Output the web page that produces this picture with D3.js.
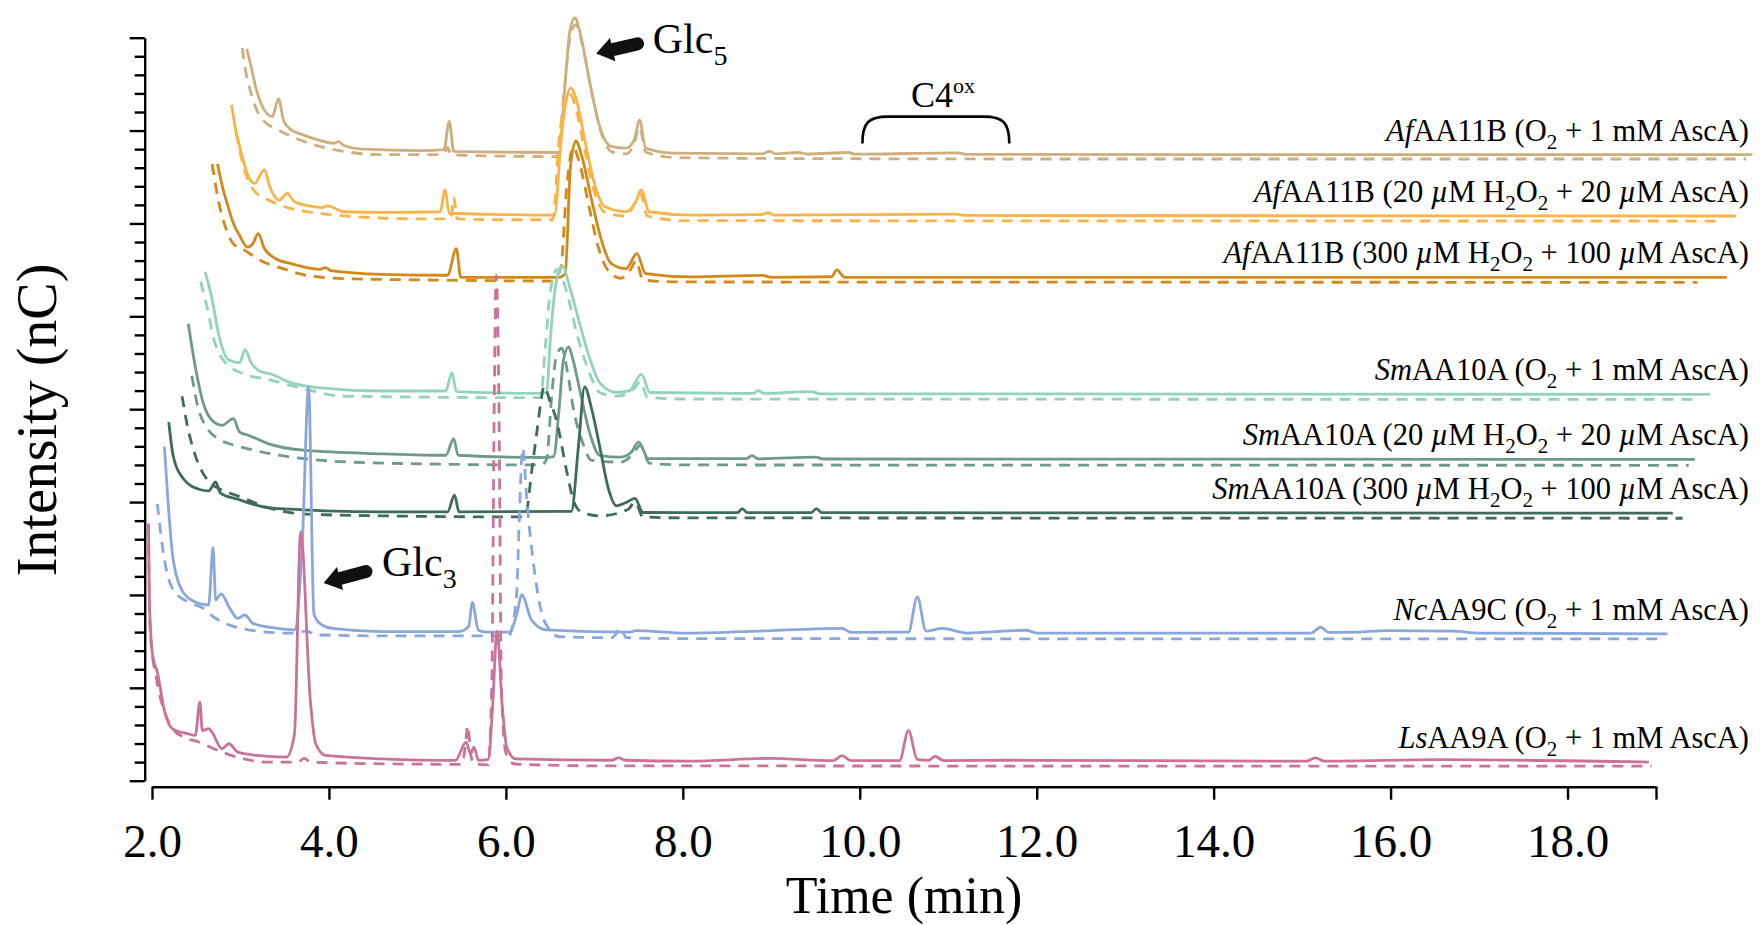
<!DOCTYPE html>
<html>
<head>
<meta charset="utf-8">
<script src="https://cdn.jsdelivr.net/npm/d3@7"></script>
<style>
  html, body { margin: 0; padding: 0; background: #fff; }
  svg { display: block; font-family: "Liberation Serif", "Times New Roman", serif; }
</style>
</head>
<body>
<svg id="chart" width="1760" height="925"></svg>
<script>
// ---- Data: [time (min), intensity above the trace's own baseline] ----
// solid = sample, *Ctrl = dashed control
const afO2 = [[3.07,57],[3.12,47.5],[3.18,35],[3.27,24],[3.36,20.5],[3.43,30],[3.49,18],[3.57,13.5],[3.70,10.8],[3.87,8.1],[4.05,6.2],[4.11,7],[4.17,5],[4.39,3],[5.04,2.2],[5.30,2.7],[5.36,18],[5.41,1.8],[6.0,1.4],[6.60,1.2],[6.67,38.6],[6.72,65.5],[6.78,73.6],[6.84,65.5],[6.95,38.6],[7.06,15.2],[7.19,4.5],[7.36,3.6],[7.45,8],[7.51,18.8],[7.58,3.6],[7.88,0.9],[8.9,0.5],[8.98,1.8],[9.05,0.5],[9.31,1.2],[9.4,0.4],[9.87,1.2],[9.95,0.3],[11.12,1],[11.2,0.2],[14,0],[20.09,0]];
const afO2Ctrl = [[3.02,57.4],[3.05,47.5],[3.12,33],[3.20,22.4],[3.29,17],[3.40,14],[3.57,10],[3.83,5.4],[4.17,1.8],[4.60,0],[5.26,0],[5.31,1],[5.34,4],[5.38,0],[6.0,-0.8],[6.58,-1],[6.66,35],[6.72,62],[6.79,70],[6.85,62],[6.96,36],[7.07,13],[7.2,1.5],[7.36,0.5],[7.45,6],[7.51,15],[7.58,1.5],[7.9,-1.5],[9,-2],[12,-2.3],[20.02,-2.3]];

const af20 = [[2.90,59.8],[2.94,48],[3.01,33.8],[3.09,21.2],[3.16,17.6],[3.27,25],[3.33,15.8],[3.44,8.6],[3.53,12.2],[3.61,7.7],[3.83,5],[3.92,4.5],[3.98,5.5],[4.17,2.3],[4.61,2],[5.26,2.3],[5.31,14],[5.36,1.5],[6.0,0.8],[6.55,0.5],[6.63,44.5],[6.69,64],[6.73,69],[6.80,62],[6.90,39],[7.01,15.8],[7.12,5],[7.36,2.3],[7.47,8],[7.53,14],[7.62,2.3],[8.10,0.5],[8.9,0.8],[8.96,1.8],[9.03,0.5],[11.08,1],[11.2,0.3],[19.9,0]];
const af20Ctrl = [[2.95,45],[3.05,24],[3.15,14],[3.3,9],[3.5,5],[3.8,2],[4.2,0],[5.0,-1.5],[5.38,-1.5],[5.41,10],[5.45,-1.5],[6.0,-2],[6.53,-2],[6.6,40],[6.67,62],[6.72,66],[6.79,58],[6.89,36],[7.0,13],[7.12,2],[7.35,0],[7.45,6],[7.52,12],[7.6,0],[8.0,-2.5],[19.76,-2.7]];

const af300 = [[2.74,61],[2.80,48],[2.86,38],[2.92,29],[2.99,22.5],[3.08,16.3],[3.14,18.1],[3.20,23.5],[3.27,15.5],[3.40,10],[3.57,7.4],[3.90,4.3],[3.96,5.2],[4.02,3.6],[4.6,1.6],[5.34,1.1],[5.44,15.5],[5.49,0],[6.60,0],[6.67,2],[6.73,59.4],[6.79,73.4],[6.86,64.8],[6.97,41.5],[7.08,20],[7.19,7.4],[7.36,4.7],[7.48,12.8],[7.58,2],[8.10,0.2],[8.90,1],[9.0,0],[9.68,0.3],[9.74,4],[9.83,0],[19.8,0]];
const af300Ctrl = [[2.68,61],[2.75,41.5],[2.83,27],[2.92,18],[3.05,14.5],[3.22,9.2],[3.48,4.7],[3.74,1.1],[4.17,-0.7],[5.47,-1.6],[6.51,-2],[6.62,5],[6.69,50],[6.76,70],[6.84,60],[6.94,38],[7.04,17],[7.15,4],[7.3,-0.5],[7.42,5],[7.47,9],[7.55,-1.5],[8.0,-2.5],[19.47,-2.7]];

const smO2 = [[2.60,66],[2.68,51],[2.75,33],[2.86,18.8],[2.99,17],[3.05,24],[3.12,17],[3.22,12.5],[3.35,10.8],[3.57,6.3],[3.87,3.6],[4.60,1.8],[5.32,1.8],[5.39,11.7],[5.44,1.5],[6.34,0.5],[6.46,1],[6.50,27.8],[6.56,58],[6.64,69],[6.72,58],[6.84,37],[6.95,19],[7.06,6.3],[7.25,1],[7.40,2],[7.53,10.8],[7.63,1],[8.80,0.5],[8.85,2],[8.92,0.5],[9.45,1.5],[9.55,0.3],[19.61,0]];
const smO2Ctrl = [[2.55,60.7],[2.62,47.5],[2.70,29.6],[2.83,17],[3.05,10.8],[3.31,8],[3.74,2.7],[4.17,-1],[6.39,-1.8],[6.45,27.8],[6.50,54.7],[6.58,67.3],[6.69,54.7],[6.80,33],[6.93,13.5],[7.06,1],[7.25,-1],[7.45,3],[7.52,7],[7.6,-1.5],[8.0,-2.5],[19.45,-2.7]];

const sm20 = [[2.41,73],[2.49,49.7],[2.57,31.8],[2.70,20],[2.79,18.3],[2.92,21.9],[2.99,14.7],[3.09,13],[3.31,8.5],[3.74,4.8],[4.61,3],[5.32,2.2],[5.41,11],[5.46,2.2],[6.42,1],[6.54,1.5],[6.60,26.4],[6.65,53.3],[6.71,60.5],[6.76,53.3],[6.86,31.8],[6.95,13.8],[7.06,2.2],[7.29,1.2],[7.42,4],[7.50,9.3],[7.61,0.4],[8.72,0.4],[8.78,2],[8.85,0.3],[9.5,1.2],[9.6,0.2],[19.44,0]];
const sm20Ctrl = [[2.45,45],[2.52,28],[2.62,17],[2.75,11],[2.90,8],[3.10,5.5],[3.40,2.5],[3.80,0],[4.60,-2],[6.40,-3],[6.46,0],[6.52,35.5],[6.57,55.5],[6.63,59.8],[6.70,46],[6.76,28],[6.86,10],[6.97,-0.5],[7.3,-1.5],[7.44,3],[7.52,7.5],[7.62,-2],[8.0,-3],[19.37,-3.2]];

const sm300 = [[2.19,49],[2.24,30.8],[2.36,18.3],[2.53,12.9],[2.64,12],[2.72,16.9],[2.77,11],[2.97,7.5],[3.31,3],[3.57,2.2],[3.96,1.3],[4.6,0.7],[5.34,0.7],[5.42,9.7],[5.47,0.7],[6.74,1],[6.82,36],[6.89,68],[6.97,56],[7.06,36],[7.16,13],[7.25,4],[7.36,5.8],[7.46,8],[7.55,0.4],[8.62,0.3],[8.67,2.5],[8.73,0.3],[9.45,0.3],[9.51,2.5],[9.57,0.3],[19.19,0]];
const sm300Ctrl = [[2.34,63],[2.40,47],[2.49,31],[2.62,18.3],[2.77,12.9],[2.97,9.3],[3.31,3],[3.74,-0.5],[4.6,-1.4],[6.20,-2],[6.23,0],[6.29,22],[6.35,43.6],[6.40,61.4],[6.43,68.4],[6.50,60],[6.57,50.4],[6.69,22],[6.76,7.5],[6.86,0.4],[7.06,-1.4],[7.38,2],[7.46,6],[7.55,-2],[8.0,-2.5],[19.3,-2.7]];

const nc = [[2.14,100.8],[2.18,72],[2.24,39.8],[2.36,21.9],[2.53,16.5],[2.64,15.6],[2.69,46.5],[2.72,18.3],[2.78,21.5],[2.88,13.8],[2.97,8.4],[3.05,10.2],[3.14,5.7],[3.40,3.1],[3.61,2.2],[3.70,50],[3.77,133],[3.83,11],[3.89,6],[4.04,3],[4.6,1.3],[5.47,1.3],[5.58,4],[5.62,17],[5.69,2],[5.78,1],[6.04,1],[6.12,10],[6.18,21],[6.29,7.5],[6.46,2.2],[7.4,1],[7.47,1.8],[8.03,0.5],[9.0,1.8],[9.80,3],[9.9,0.8],[10.55,1],[10.65,20],[10.75,1.5],[10.93,3],[11.21,0.5],[11.88,2],[12,0.5],[15.1,0.5],[15.21,3.6],[15.3,0.8],[15.62,1],[15.95,1.8],[16.71,1.5],[17,0.5],[19.13,0]];
const ncCtrl = [[2.06,70],[2.14,40],[2.24,23.7],[2.40,17.4],[2.58,13.8],[2.70,9],[2.83,5.7],[3.09,2.2],[3.57,0.4],[3.75,1.5],[3.85,-0.5],[4.6,-1],[6.03,-1],[6.12,20],[6.15,60],[6.19,100],[6.24,70],[6.32,35],[6.40,12],[6.50,2],[6.60,-1.5],[7.2,-2],[7.3,3],[7.36,-2],[8.0,-2.5],[19.05,-2.7]];

const ls = [[1.96,128.5],[1.97,87],[2.01,56.5],[2.06,48.5],[2.14,27.8],[2.23,18],[2.40,15.3],[2.49,14.4],[2.54,32.3],[2.57,17],[2.64,18],[2.68,16],[2.79,7.2],[2.87,9.9],[2.97,5.4],[3.31,3.1],[3.52,2.7],[3.61,15],[3.68,124],[3.79,33],[3.85,10],[3.96,3.6],[4.6,1.8],[5.43,0.9],[5.55,10.8],[5.60,4.6],[5.64,8],[5.69,1],[5.80,1.5],[5.85,30],[5.90,70.6],[5.96,29.5],[6.01,8],[6.11,1.8],[7.2,1],[7.27,2.4],[7.35,1],[8.08,0.5],[8.98,2],[9.7,0.8],[9.80,3.5],[9.9,0.8],[10.45,0.8],[10.55,17],[10.65,1.5],[10.78,1],[10.85,3.1],[10.95,0.8],[11.71,1],[15.05,0.5],[15.15,2.3],[15.25,0.5],[16.57,1.3],[18.92,0]];
const lsCtrl = [[1.96,128],[1.98,70],[2.05,45],[2.15,26],[2.25,17],[2.36,13.5],[2.53,10.8],[2.70,7.2],[2.96,2.7],[3.31,0],[3.65,0],[3.72,2],[3.80,0],[4.6,-0.9],[5.50,-1.2],[5.54,8],[5.57,19.7],[5.60,5],[5.64,-1],[5.80,-1.5],[5.84,40],[5.87,200],[5.89,262],[5.92,200],[5.95,40],[6.00,5],[6.10,-1],[7.0,-2],[18.95,-2.2]];

// stacking offsets (nC), top trace first
const offsets = [337, 304, 271, 208, 173, 144, 79, 10];

// labels: [text, "i" italic | "s" subscript | ""]
const labels = [
  [["Af","i"],["AA11B (O",""],["2","s"],[" + 1 mM AscA)",""]],
  [["Af","i"],["AA11B (20 ",""],["µ","i"],["M H",""],["2","s"],["O",""],["2","s"],[" + 20 ",""],["µ","i"],["M AscA)",""]],
  [["Af","i"],["AA11B (300 ",""],["µ","i"],["M H",""],["2","s"],["O",""],["2","s"],[" + 100 ",""],["µ","i"],["M AscA)",""]],
  [["Sm","i"],["AA10A (O",""],["2","s"],[" + 1 mM AscA)",""]],
  [["Sm","i"],["AA10A (20 ",""],["µ","i"],["M H",""],["2","s"],["O",""],["2","s"],[" + 20 ",""],["µ","i"],["M AscA)",""]],
  [["Sm","i"],["AA10A (300 ",""],["µ","i"],["M H",""],["2","s"],["O",""],["2","s"],[" + 100 ",""],["µ","i"],["M AscA)",""]],
  [["Nc","i"],["AA9C (O",""],["2","s"],[" + 1 mM AscA)",""]],
  [["Ls","i"],["AA9A (O",""],["2","s"],[" + 1 mM AscA)",""]]
];

const xTicks = [2, 4, 6, 8, 10, 12, 14, 16, 18, 19];

// annotation anchors in data space [time, nC]
const glc5Arrow = { tip: [7.02, 391.5], tail: [7.56, 397.5] };
const glc3Arrow = { tip: [3.94, 106.5], tail: [4.49, 113.5] };
const glc5Text = [7.66, 391.9];
const glc3Text = [4.60, 110.3];
const c4Bracket = { from: 10.03, to: 11.69, top: 357.5, bottom: 343.1 };
const c4Text = [10.58, 362.9];

// ---- Styles ----
const colors = ["#cfae7e", "#f9b347", "#d3891a", "#93d3bb", "#6e9b87", "#3f6b59", "#8aa7dc", "#c9739b"];

const traces = [
  { s: afO2, c: afO2Ctrl }, { s: af20, c: af20Ctrl }, { s: af300, c: af300Ctrl },
  { s: smO2, c: smO2Ctrl }, { s: sm20, c: sm20Ctrl }, { s: sm300, c: sm300Ctrl },
  { s: nc, c: ncCtrl }, { s: ls, c: lsCtrl }
];

const svg = d3.select("#chart");
const x = d3.scaleLinear().domain([2, 19]).range([152, 1656]);
const y = d3.scaleLinear().domain([0, 400]).range([780.7, 37.7]);

// ---- Traces ----
const gTraces = svg.append("g").attr("fill", "none").attr("stroke-linejoin", "round");
traces.forEach((t, i) => {
  const line = d3.line()
    .x((d) => x(d[0]))
    .y((d) => y(d[1] + offsets[i]))
    .curve(d3.curveMonotoneX);
  gTraces.append("path")
    .attr("d", line(t.c))
    .attr("stroke", colors[i])
    .attr("stroke-width", 2.8)
    .attr("stroke-dasharray", "11,8");
  gTraces.append("path")
    .attr("d", line(t.s))
    .attr("stroke", colors[i])
    .attr("stroke-width", 2.8);
});

// ---- Axes ----
const yMinor = d3.range(0, 401, 10).filter((v) => v % 50 !== 0);
const yMajor = d3.range(0, 401, 50);
svg.append("g").attr("transform", "translate(144.7,0)")
  .call(d3.axisLeft(y).tickValues(yMinor).tickSize(10).tickSizeOuter(0).tickFormat(""));
const yAxisMajor = svg.append("g").attr("transform", "translate(144.7,0)")
  .call(d3.axisLeft(y).tickValues(yMajor).tickSize(15).tickSizeOuter(0).tickFormat(""));
yAxisMajor.select(".domain").remove();

const xAxis = svg.append("g").attr("transform", "translate(0,786.7)")
  .call(d3.axisBottom(x).tickValues(xTicks).tickSize(13).tickSizeOuter(0).tickPadding(24)
    .tickFormat((d) => (d === 19 ? "" : d.toFixed(1))));
xAxis.attr("font-family", null);
xAxis.selectAll("text").attr("font-size", 47).attr("fill", "#000");

svg.selectAll(".domain, .tick line").attr("stroke", "#000").attr("stroke-width", 2.4);

svg.append("text")
  .attr("x", (x(2) + x(19)) / 2).attr("y", 913)
  .attr("text-anchor", "middle").attr("font-size", 52)
  .text("Time (min)");

svg.append("text")
  .attr("transform", "translate(56,420) rotate(-90)")
  .attr("text-anchor", "middle").attr("font-size", 56)
  .text("Intensity (nC)");

// ---- Trace labels ----
labels.forEach((parts, i) => {
  const txt = svg.append("text")
    .attr("x", 1749).attr("y", y(offsets[i]) - 14)
    .attr("text-anchor", "end").attr("font-size", 30.5);
  let shift = 0;
  parts.forEach(([s, style]) => {
    const ts = txt.append("tspan").text(s);
    if (style === "i") ts.attr("font-style", "italic");
    if (style === "s") {
      ts.attr("font-size", 21).attr("dy", 8 - shift);
      shift = 8;
    } else if (shift) {
      ts.attr("dy", -shift);
      shift = 0;
    }
  });
});

// ---- Annotations ----
function blockArrow(a) {
  const tx = x(a.tip[0]), ty = y(a.tip[1]);
  const ex = x(a.tail[0]), ey = y(a.tail[1]);
  const L = Math.hypot(ex - tx, ey - ty);
  const ang = Math.atan2(ey - ty, ex - tx) * 180 / Math.PI;
  const hl = 17, hw = 12, bt = 6.5;
  const p = `M0,0 L${hl},${-hw} L${hl},${-bt} L${L - bt},${-bt} A${bt},${bt} 0 0 1 ${L - bt},${bt} L${hl},${bt} L${hl},${hw} Z`;
  svg.append("path")
    .attr("d", p)
    .attr("transform", `translate(${tx},${ty}) rotate(${ang})`)
    .attr("fill", "#111");
}
blockArrow(glc5Arrow);
blockArrow(glc3Arrow);

function glcLabel(pos, n) {
  const t = svg.append("text").attr("x", x(pos[0])).attr("y", y(pos[1])).attr("font-size", 42);
  t.append("tspan").text("Glc");
  t.append("tspan").attr("font-size", 28).attr("dy", 12).text(n);
}
glcLabel(glc5Text, "5");
glcLabel(glc3Text, "3");

const bx0 = x(c4Bracket.from), bx1 = x(c4Bracket.to);
const byT = y(c4Bracket.top), byB = y(c4Bracket.bottom);
svg.append("path")
  .attr("d", `M${bx0},${byB} C${bx0},${byT + 6} ${bx0 + 6},${byT} ${bx0 + 26},${byT} L${bx1 - 26},${byT} C${bx1 - 6},${byT} ${bx1},${byT + 6} ${bx1},${byB}`)
  .attr("fill", "none").attr("stroke", "#000").attr("stroke-width", 2.6);

const c4 = svg.append("text").attr("x", x(c4Text[0])).attr("y", y(c4Text[1])).attr("font-size", 36);
c4.append("tspan").text("C4");
c4.append("tspan").attr("font-size", 22).attr("dy", -14).text("ox");
</script>
</body>
</html>
